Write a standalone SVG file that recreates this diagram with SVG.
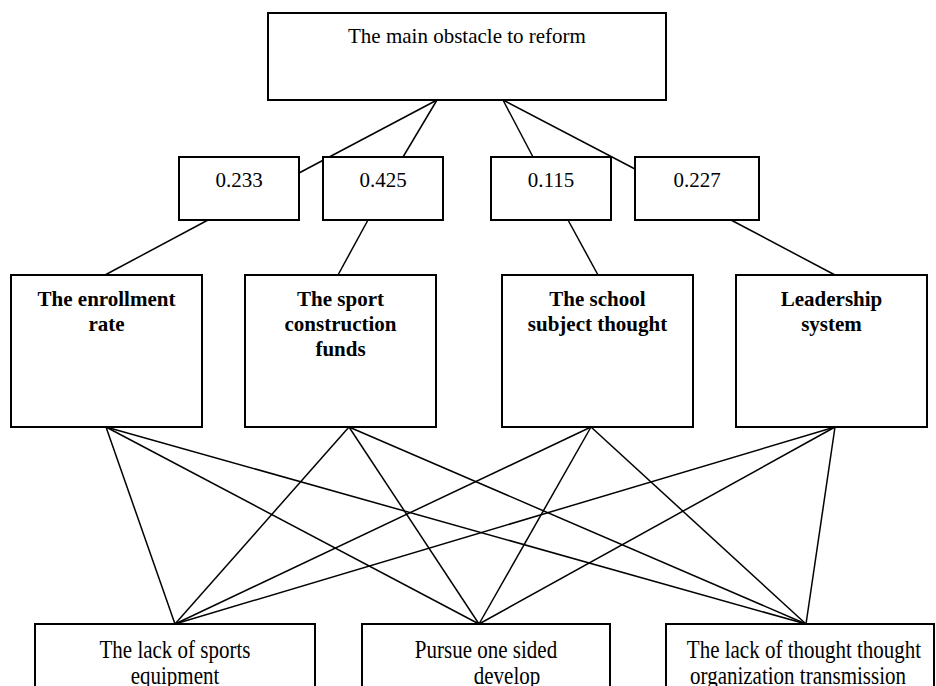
<svg xmlns="http://www.w3.org/2000/svg" width="936" height="686" viewBox="0 0 936 686">
<style>
.box{fill:#fff;stroke:#000;stroke-width:2}
text{font-family:'Liberation Serif','DejaVu Serif',serif;font-size:21px;fill:#000;text-anchor:middle}
.b{font-weight:bold}
.c line{stroke:#000;stroke-width:1.5}
</style>
<rect width="936" height="686" fill="#fff"/>
<g class="c" id="connectors">
<line x1="437" y1="100" x2="299" y2="173"/>
<line x1="437" y1="100" x2="403" y2="157"/>
<line x1="503" y1="100" x2="533" y2="157"/>
<line x1="503" y1="100" x2="635" y2="169"/>
<line x1="208" y1="220" x2="105" y2="275"/>
<line x1="368" y1="220" x2="338" y2="275"/>
<line x1="568" y1="220" x2="598" y2="275"/>
<line x1="731" y1="220" x2="835" y2="275"/>
<line x1="106" y1="427" x2="175" y2="624"/>
<line x1="106" y1="427" x2="479" y2="624"/>
<line x1="106" y1="427" x2="806" y2="624"/>
<line x1="349" y1="427" x2="175" y2="624"/>
<line x1="349" y1="427" x2="479" y2="624"/>
<line x1="349" y1="427" x2="806" y2="624"/>
<line x1="591" y1="427" x2="175" y2="624"/>
<line x1="591" y1="427" x2="479" y2="624"/>
<line x1="591" y1="427" x2="806" y2="624"/>
<line x1="835" y1="427" x2="175" y2="624"/>
<line x1="835" y1="427" x2="479" y2="624"/>
<line x1="835" y1="427" x2="806" y2="624"/>
</g>
<g id="goal">
<rect class="box" x="268" y="13" width="398" height="87"/>
<text font-family="Liberation Serif, serif" x="467" y="43">The main obstacle to reform</text>
</g>
<g id="w1">
<rect class="box" x="179" y="157" width="120" height="63"/>
<text font-family="Liberation Serif, serif" x="239" y="187">0.233</text>
</g>
<g id="w2">
<rect class="box" x="323" y="157" width="120" height="63"/>
<text font-family="Liberation Serif, serif" x="383" y="187">0.425</text>
</g>
<g id="w3">
<rect class="box" x="491" y="157" width="120" height="63"/>
<text font-family="Liberation Serif, serif" x="551" y="187">0.115</text>
</g>
<g id="w4">
<rect class="box" x="635" y="157" width="124" height="63"/>
<text font-family="Liberation Serif, serif" x="697" y="187">0.227</text>
</g>
<g id="c1">
<rect class="box" x="11" y="275" width="191" height="152"/>
<text class="b" font-family="Liberation Serif, serif" x="106.5" y="306">The enrollment</text>
<text class="b" font-family="Liberation Serif, serif" x="106.5" y="331">rate</text>
</g>
<g id="c2">
<rect class="box" x="245" y="275" width="191" height="152"/>
<text class="b" font-family="Liberation Serif, serif" x="340.5" y="306">The sport</text>
<text class="b" font-family="Liberation Serif, serif" x="340.5" y="331">construction</text>
<text class="b" font-family="Liberation Serif, serif" x="340.5" y="356">funds</text>
</g>
<g id="c3">
<rect class="box" x="502" y="275" width="191" height="152"/>
<text class="b" font-family="Liberation Serif, serif" x="597.5" y="306">The school</text>
<text class="b" font-family="Liberation Serif, serif" x="597.5" y="331">subject thought</text>
</g>
<g id="c4">
<rect class="box" x="736" y="275" width="191" height="152"/>
<text class="b" font-family="Liberation Serif, serif" x="831.5" y="306">Leadership</text>
<text class="b" font-family="Liberation Serif, serif" x="831.5" y="331">system</text>
</g>
<g id="a1">
<rect class="box" x="35" y="624" width="280" height="80"/>
<text font-family="Liberation Serif, serif" transform="translate(175 658) scale(1 1.2)">The lack of sports</text>
<text font-family="Liberation Serif, serif" transform="translate(175 684) scale(1 1.2)">equipment</text>
</g>
<g id="a2">
<rect class="box" x="362" y="624" width="248" height="80"/>
<text font-family="Liberation Serif, serif" transform="translate(486 658) scale(1 1.2)">Pursue one sided</text>
<text font-family="Liberation Serif, serif" transform="translate(507 684) scale(1 1.2)">develop</text>
</g>
<g id="a3">
<rect class="box" x="666" y="624" width="268" height="80"/>
<text font-family="Liberation Serif, serif" transform="translate(804 658) scale(1 1.2)">The lack of thought thought</text>
<text font-family="Liberation Serif, serif" transform="translate(798 684) scale(1 1.2)">organization transmission</text>
</g>
</svg>
